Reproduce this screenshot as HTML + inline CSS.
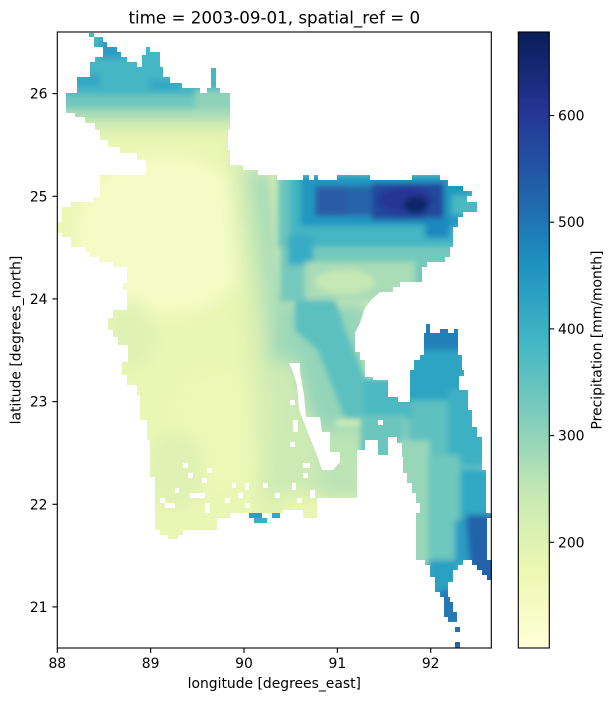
<!DOCTYPE html>
<html><head><meta charset="utf-8"><style>
html,body{margin:0;padding:0;background:#fff;}
svg{display:block;}
text{font-family:"DejaVu Sans","Liberation Sans",sans-serif;fill:#000;}
</style></head><body>
<svg width="614" height="701" viewBox="0 0 614 701" xmlns="http://www.w3.org/2000/svg">
<defs>
<clipPath id="bd"><polygon points="89,33 94,33 94,37 103,37 103,42 107,42 107,47 117,47 117,52 121,52 121,57 127,57 127,62 137,62 137,67 142,67 142,55 146,55 146,47 150,47 150,52 160,52 160,67 163,67 163,77 170,77 170,83 182,83 182,88 200,88 200,93 207,93 207,88 211,88 211,68 216,68 216,88 220,88 220,93 230,93 230,130 228,130 228,150 230,150 230,165 243,165 243,170 258,170 258,175 277,175 277,180 303,180 303,175 309,175 309,180 314,180 314,175 318,175 318,180 337,180 337,175 370,175 370,180 412,180 412,175 440,175 440,180 448,180 448,186 463,186 463,191 472,191 472,196 467,196 467,202 477,202 477,212 463,212 463,217 458,217 458,227 453,227 453,247 450,247 450,257 445,257 445,262 427,262 427,267 422,267 422,282 400,282 400,287 393,287 393,292 380,292 373,298 365,308 360,323 355,333 355,352 360,352 360,360 365,360 365,377 373,377 373,380 388,380 388,397 398,397 398,402 410,402 410,370 414,370 414,360 420,360 420,355 424,355 424,333 426,333 426,324 430,324 430,333 440,333 440,329 448,329 448,333 454,333 454,329 458,329 458,355 462,355 462,370 464,370 464,376 459,376 459,390 468,390 468,410 472,410 472,427 477,427 477,437 482,437 482,470 486,470 486,513 492,513 492,518 487,518 487,560 492,560 492,580 487,580 487,575 482,575 482,570 477,570 477,565 472,565 472,560 463,560 463,565 458,565 458,570 453,570 453,582 448,582 448,597 450,597 450,602 453,602 453,612 457,612 457,622 448,622 448,617 444,617 444,597 440,597 440,592 435,592 435,577 430,577 430,565 425,565 425,560 416,560 416,513 420,513 420,503 416,503 416,493 412,493 412,483 407,483 407,473 403,473 403,457 402,457 402,443 397,443 397,437 388,437 388,455 378,455 378,440 365,440 365,450 357,450 357,498 327,498 317,498 317,518 303,518 303,510 283,510 283,513 230,513 230,518 217,518 217,530 183,530 183,535 178,535 178,539 168,539 168,535 160,535 160,530 155,530 155,477 150,477 150,440 147,440 147,420 140,420 140,395 137,395 137,385 127,385 127,375 122,375 122,362 128,362 128,345 118,345 118,337 113,337 113,330 108,330 108,318 113,318 113,310 127,310 127,290 123,290 123,283 127,283 127,267 113,267 113,262 99,262 99,257 90,257 90,252 85,252 85,247 71,247 71,237 62,237 62,233 57,233 57,222 62,222 62,207 71,207 71,202 93,202 93,197 100,197 100,175 146,175 146,160 137,160 137,153 120,153 120,147 108,147 108,140 100,140 100,130 95,130 95,123 85,123 85,117 75,117 75,113 66,113 66,93 77,93 77,77 90,77 90,62 95,62 95,57 103,57 103,47 94,47 94,37 89,37"/></clipPath>
<filter id="bl" x="-5%" y="-5%" width="110%" height="110%"><feGaussianBlur stdDeviation="3"/></filter>
<filter id="bl2" x="-5%" y="-5%" width="110%" height="110%"><feGaussianBlur stdDeviation="8"/></filter>
<linearGradient id="cb" x1="0" y1="1" x2="0" y2="0">
<stop offset="0" stop-color="#ffffd9"/>
<stop offset="0.125" stop-color="#edf8b1"/>
<stop offset="0.25" stop-color="#c7e9b4"/>
<stop offset="0.375" stop-color="#7fcdbb"/>
<stop offset="0.5" stop-color="#41b6c4"/>
<stop offset="0.625" stop-color="#1d91c0"/>
<stop offset="0.75" stop-color="#225ea8"/>
<stop offset="0.875" stop-color="#253494"/>
<stop offset="1" stop-color="#081d58"/>
</linearGradient>
</defs>
<rect width="614" height="701" fill="#fff"/>

<g clip-path="url(#bd)">
<g filter="url(#bl2)">
<rect width="614" height="701" fill="#eaf6b3"/>
<ellipse cx="165" cy="235" rx="90" ry="80" fill="#f5fbc6"/>
<ellipse cx="215" cy="430" rx="45" ry="60" fill="#eef8b6"/>
<ellipse cx="175" cy="470" rx="30" ry="40" fill="#dff2b3"/>
<ellipse cx="130" cy="335" rx="25" ry="35" fill="#dff2b3"/>
<polygon points="226,140 248,140 285,540 262,540" fill="#dcf1b3"/>
<polygon points="240,165 258,165 292,470 278,470" fill="#c0e6b5"/>
<polygon points="255,170 272,170 296,400 286,400" fill="#9ed8b8"/>
<polygon points="275,300 300,300 296,365 272,365" fill="#9ed8b8"/>
<polygon points="272,360 296,360 304,400 320,440 335,495 265,495" fill="#cdeab4"/>
<polygon points="300,300 370,300 370,480 335,480 320,440 304,400 296,365" fill="#94d5b9"/>
<rect x="318" y="430" width="50" height="70" fill="#bde4b5"/>
<rect x="398" y="320" width="97" height="310" fill="#5ec0c0"/>
</g>
<g filter="url(#bl)">
<!-- north lobe -->
<rect x="50" y="25" width="185" height="72" fill="#44b6c3"/>
<rect x="100" y="40" width="30" height="18" fill="#2b9dc2"/>
<rect x="70" y="74" width="30" height="12" fill="#33a8c4"/>
<rect x="150" y="80" width="30" height="10" fill="#33a8c4"/>
<rect x="50" y="95" width="185" height="16" fill="#6fc7bd"/>
<rect x="195" y="90" width="40" height="25" fill="#8dd2b9"/>
<rect x="50" y="109" width="185" height="12" fill="#a8dcb7"/>
<rect x="50" y="119" width="185" height="12" fill="#cbeab4"/>
<rect x="50" y="129" width="185" height="10" fill="#e1f3b2"/>
<!-- NE -->
<rect x="280" y="240" width="210" height="62" fill="#74c9bc"/>
<rect x="278" y="172" width="214" height="75" fill="#44b6c3"/>
<rect x="278" y="172" width="12" height="75" fill="#68c4be"/>
<rect x="300" y="176" width="170" height="50" fill="#2498c1"/>
<rect x="315" y="186" width="32" height="30" fill="#2a5ba6"/>
<rect x="347" y="186" width="25" height="30" fill="#2563a9"/>
<rect x="372" y="183" width="72" height="37" fill="#244a9e"/>
<ellipse cx="405" cy="200" rx="28" ry="13" fill="#253494"/>
<ellipse cx="416" cy="205" rx="12" ry="9" fill="#10256a"/>
<rect x="452" y="195" width="30" height="20" fill="#4ab9c2"/>
<rect x="425" y="218" width="25" height="20" fill="#1f88bf"/>
<rect x="288" y="235" width="25" height="30" fill="#38acc4"/>
<rect x="305" y="262" width="110" height="40" fill="#a9dcb7"/>
<ellipse cx="345" cy="282" rx="30" ry="12" fill="#c6e8b4"/>
<!-- central east -->
<polygon points="295,300 335,300 345,330 372,395 372,418 345,418 318,350 295,330" fill="#5cbfc0"/>
<rect x="336" y="420" width="32" height="6" fill="#d6eeb3"/>
<rect x="365" y="378" width="48" height="40" fill="#4cb9c2"/>
<rect x="360" y="415" width="45" height="45" fill="#6cc6bd"/>
<!-- SE -->
<rect x="418" y="320" width="45" height="32" fill="#2180b9"/>
<rect x="405" y="350" width="60" height="50" fill="#2ea4c3"/>
<rect x="448" y="390" width="40" height="75" fill="#3db1c4"/>
<rect x="398" y="440" width="32" height="125" fill="#98d6b9"/>
<rect x="428" y="455" width="32" height="105" fill="#6ec8bd"/>
<rect x="460" y="470" width="30" height="50" fill="#33a9c4"/>
<rect x="455" y="520" width="14" height="45" fill="#2c9bc2"/>
<polygon points="466,515 495,515 495,590 472,590" fill="#2262a9"/>
<rect x="428" y="560" width="30" height="65" fill="#2ca0c2"/>
<rect x="440" y="590" width="22" height="35" fill="#2677b5"/>
</g>
</g>

<!-- white holes -->
<g fill="#fff">
<polygon points="289,363 300,363 300,372 304,395 306,417 320,417 322,432 330,432 330,452 340,452 340,462 333,470 322,470 318,458 313,445 308,433 303,420 299,410 297,385 293,372"/>
<rect x="183" y="463" width="5" height="5"/>
<rect x="207" y="468" width="5" height="5"/>
<rect x="188" y="473" width="5" height="5"/>
<rect x="202" y="478" width="5" height="5"/>
<rect x="175" y="488" width="4" height="5"/>
<rect x="190" y="493" width="15" height="5"/>
<rect x="160" y="498" width="5" height="5"/>
<rect x="165" y="503" width="10" height="5"/>
<rect x="205" y="503" width="5" height="10"/>
<rect x="225" y="498" width="5" height="5"/>
<rect x="238" y="493" width="5" height="5"/>
<rect x="245" y="503" width="5" height="5"/>
<rect x="263" y="483" width="5" height="5"/>
<rect x="275" y="493" width="5" height="5"/>
<rect x="232" y="483" width="4" height="5"/>
<rect x="290" y="400" width="5" height="5"/>
<rect x="293" y="420" width="5" height="12"/>
<rect x="290" y="442" width="5" height="5"/>
<rect x="303" y="463" width="7" height="5"/>
<rect x="303" y="473" width="5" height="5"/>
<rect x="292" y="483" width="4" height="7"/>
<rect x="245" y="483" width="4" height="7"/>
<rect x="297" y="498" width="5" height="5"/>
<rect x="310" y="490" width="5" height="8"/>
<rect x="378" y="420" width="5" height="5"/>
</g>

<!-- isolated cells -->
<rect x="249" y="513" width="13" height="5" fill="#2a9fc2"/>
<rect x="254" y="518" width="13" height="5" fill="#3aaec3"/>
<rect x="272" y="513" width="8" height="5" fill="#33a8c4"/>
<rect x="455" y="627" width="5" height="5" fill="#2171b5"/>
<rect x="455" y="642" width="5" height="6" fill="#2368ae"/>

<!-- axes frame -->
<rect x="57.3" y="32" width="434" height="616" fill="none" stroke="#000" stroke-width="1.1"/>
<g stroke="#000" stroke-width="1.1">
<line x1="52.4" y1="93.6" x2="57.3" y2="93.6"/>
<line x1="52.4" y1="196.3" x2="57.3" y2="196.3"/>
<line x1="52.4" y1="298.9" x2="57.3" y2="298.9"/>
<line x1="52.4" y1="401.6" x2="57.3" y2="401.6"/>
<line x1="52.4" y1="504.3" x2="57.3" y2="504.3"/>
<line x1="52.4" y1="606.9" x2="57.3" y2="606.9"/>
<line x1="57.3" y1="648" x2="57.3" y2="652.9"/>
<line x1="150.65" y1="648" x2="150.65" y2="652.9"/>
<line x1="244" y1="648" x2="244" y2="652.9"/>
<line x1="337.35" y1="648" x2="337.35" y2="652.9"/>
<line x1="430.7" y1="648" x2="430.7" y2="652.9"/>
</g>
<g font-size="13.9px" text-anchor="end">
<text x="47.5" y="98.6">26</text>
<text x="47.5" y="201.3">25</text>
<text x="47.5" y="303.9">24</text>
<text x="47.5" y="406.6">23</text>
<text x="47.5" y="509.3">22</text>
<text x="47.5" y="611.9">21</text>
</g>
<g font-size="13.9px" text-anchor="middle">
<text x="57.3" y="667.8">88</text>
<text x="150.65" y="667.8">89</text>
<text x="244" y="667.8">90</text>
<text x="337.35" y="667.8">91</text>
<text x="430.7" y="667.8">92</text>
<text x="274.3" y="688">longitude [degrees_east]</text>
<text transform="translate(20.7,340) rotate(-90)">latitude [degrees_north]</text>
</g>
<text x="274.3" y="23.7" font-size="16.7px" text-anchor="middle">time = 2003-09-01, spatial_ref = 0</text>

<!-- colorbar -->
<rect x="518.3" y="32" width="31" height="616" fill="url(#cb)" stroke="#000" stroke-width="1.1"/>
<g stroke="#000" stroke-width="1.1">
<line x1="549.3" y1="115.5" x2="554.2" y2="115.5"/>
<line x1="549.3" y1="222.2" x2="554.2" y2="222.2"/>
<line x1="549.3" y1="328.9" x2="554.2" y2="328.9"/>
<line x1="549.3" y1="435.6" x2="554.2" y2="435.6"/>
<line x1="549.3" y1="542.3" x2="554.2" y2="542.3"/>
</g>
<g font-size="13.9px">
<text x="558" y="120.5">600</text>
<text x="558" y="227.2">500</text>
<text x="558" y="333.9">400</text>
<text x="558" y="440.6">300</text>
<text x="558" y="547.3">200</text>
<text transform="translate(601.5,340) rotate(-90)" text-anchor="middle">Precipitation [mm/month]</text>
</g>
</svg>
</body></html>
